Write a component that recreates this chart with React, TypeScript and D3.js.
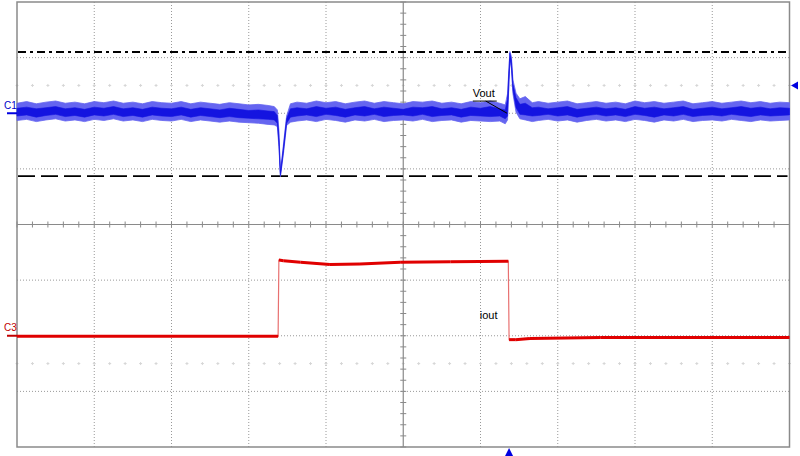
import React from "react";
import * as d3 from "d3";

// ---- data (time in divisions 0..10, level in divisions -4..4) ----
const vTime = [
  0, 0.125, 0.25, 0.375, 0.5, 0.625, 0.75, 0.875, 1.0, 1.125, 1.25, 1.375, 1.5, 1.625, 1.75, 1.875, 2.0, 2.125, 2.25, 2.375, 2.5, 2.625, 2.75, 2.875, 3.0, 3.125, 3.25,
  3.33, 3.37, 3.39, 3.41, 3.45, 3.49, 3.54,
  3.625, 3.75, 3.875, 4.0, 4.125, 4.25, 4.375, 4.5, 4.625, 4.75, 4.875, 5.0, 5.125, 5.25, 5.375, 5.5, 5.625, 5.75, 5.875, 6.0, 6.125, 6.25,
  6.32, 6.35, 6.38, 6.4, 6.42, 6.46, 6.51, 6.58, 6.67,
  6.75, 6.875, 7.0, 7.125, 7.25, 7.375, 7.5, 7.625, 7.75, 7.875, 8.0, 8.125, 8.25, 8.375, 8.5, 8.625, 8.75, 8.875, 9.0, 9.125, 9.25, 9.375, 9.5, 9.625, 9.75, 9.875, 10.0,
];
const vHigh = [
  2.18, 2.21, 2.17, 2.2, 2.22, 2.18, 2.2, 2.17, 2.21, 2.19, 2.22, 2.18, 2.2, 2.17, 2.21, 2.19, 2.18, 2.21, 2.17, 2.2, 2.18, 2.16, 2.19, 2.17, 2.15, 2.16, 2.14,
  2.12, 2.06, 1.7, 0.94, 1.45, 1.95, 2.17,
  2.2, 2.18, 2.22, 2.19, 2.21, 2.17, 2.2, 2.22, 2.18, 2.21, 2.19, 2.17, 2.21, 2.2, 2.22, 2.18, 2.2, 2.17, 2.21, 2.19, 2.22, 2.18,
  2.15, 2.35, 3.11, 3.02, 2.6, 2.36, 2.26, 2.3, 2.19,
  2.21, 2.18, 2.2, 2.22, 2.17, 2.19, 2.21, 2.18, 2.2, 2.17, 2.22, 2.19, 2.21, 2.18, 2.2, 2.22, 2.17, 2.19, 2.21, 2.18, 2.2, 2.22, 2.19, 2.21, 2.18, 2.2, 2.19,
];
const vLow = [
  1.87, 1.89, 1.85, 1.88, 1.9, 1.86, 1.88, 1.85, 1.89, 1.87, 1.9, 1.86, 1.88, 1.85, 1.89, 1.87, 1.86, 1.89, 1.85, 1.88, 1.86, 1.84, 1.86, 1.84, 1.83, 1.82, 1.8,
  1.79, 1.76, 1.4, 0.86, 1.28, 1.78, 1.84,
  1.86, 1.88, 1.85, 1.89, 1.87, 1.84, 1.88, 1.86, 1.89, 1.85, 1.87, 1.88, 1.86, 1.89, 1.85, 1.87, 1.88, 1.84, 1.87, 1.86, 1.85, 1.86,
  1.81, 1.88, 2.95, 2.8, 2.35, 2.02, 1.9, 1.88, 1.85,
  1.87, 1.89, 1.86, 1.88, 1.84, 1.87, 1.89, 1.86, 1.88, 1.85, 1.89, 1.87, 1.84, 1.88, 1.86, 1.89, 1.85, 1.87, 1.88, 1.86, 1.89, 1.87, 1.85, 1.88, 1.86, 1.87, 1.88,
];
const vCoreHigh = [
  2.09, 2.11, 2.08, 2.1, 2.12, 2.08, 2.1, 2.07, 2.11, 2.09, 2.12, 2.08, 2.1, 2.07, 2.11, 2.09, 2.08, 2.11, 2.07, 2.1, 2.08, 2.06, 2.09, 2.07, 2.05, 2.06, 2.04,
  2.03, 1.96, 1.6, 0.92, 1.4, 1.9, 2.08,
  2.1, 2.08, 2.12, 2.09, 2.11, 2.07, 2.1, 2.12, 2.08, 2.11, 2.09, 2.07, 2.11, 2.1, 2.12, 2.08, 2.1, 2.07, 2.11, 2.09, 2.12, 2.08,
  2.06, 2.25, 3.08, 2.96, 2.52, 2.28, 2.16, 2.18, 2.1,
  2.11, 2.08, 2.1, 2.12, 2.07, 2.09, 2.11, 2.08, 2.1, 2.07, 2.12, 2.09, 2.11, 2.08, 2.1, 2.12, 2.07, 2.09, 2.11, 2.08, 2.1, 2.12, 2.09, 2.11, 2.08, 2.1, 2.09,
];
const vCoreLow = [
  1.95, 1.97, 1.93, 1.96, 1.98, 1.94, 1.96, 1.93, 1.97, 1.95, 1.98, 1.94, 1.96, 1.93, 1.97, 1.95, 1.94, 1.97, 1.93, 1.96, 1.94, 1.92, 1.94, 1.92, 1.91, 1.9, 1.89,
  1.88, 1.82, 1.48, 0.88, 1.33, 1.82, 1.93,
  1.95, 1.97, 1.94, 1.98, 1.96, 1.93, 1.97, 1.95, 1.98, 1.94, 1.96, 1.97, 1.95, 1.98, 1.94, 1.96, 1.97, 1.93, 1.96, 1.95, 1.94, 1.95,
  1.9, 1.95, 2.98, 2.86, 2.42, 2.1, 1.98, 1.97, 1.95,
  1.96, 1.98, 1.95, 1.97, 1.93, 1.96, 1.98, 1.95, 1.97, 1.94, 1.98, 1.96, 1.93, 1.97, 1.95, 1.98, 1.94, 1.96, 1.97, 1.95, 1.98, 1.96, 1.94, 1.97, 1.95, 1.96, 1.97,
];

const iTime = [0, 3.38, 3.39, 3.45, 3.67, 4.05, 4.44, 4.96, 5.61, 6.36, 6.37, 6.45, 6.64, 7.55, 10];
const iLevel = [-2.01, -2.01, -0.64, -0.65, -0.68, -0.72, -0.71, -0.68, -0.67, -0.66, -2.07, -2.07, -2.05, -2.03, -2.03];

const refLevels = { dashDot: 3.1, dashed: 0.87 };
const ch1Offset = 2.0;
const ch3Offset = -2.0;
const triggerTime = 6.37;
const triggerLevel = 2.5;
const crossRows = [2.5, -2.5];
const labels = [
  { text: "Vout", t: 5.9, v: 2.3 },
  { text: "iout", t: 5.99, v: -1.69 },
];

export default function App() {
  const W = 800, H = 456;
  const x = d3.scaleLinear().domain([0, 10]).range([17, 789.5]);
  const y = d3.scaleLinear().domain([-4, 4]).range([447, 2]);
  const font = "Liberation Sans, Arial, sans-serif";

  const idx = vTime.map((_, i) => i);
  const outerArea = d3.area<number>().x(i => x(vTime[i])).y0(i => y(vLow[i])).y1(i => y(vHigh[i]))(idx) || "";
  const coreArea = d3.area<number>().x(i => x(vTime[i])).y0(i => y(vCoreLow[i])).y1(i => y(vCoreHigh[i]))(idx) || "";

  const line = d3.line<number>().x(i => x(iTime[i])).y(i => y(iLevel[i]));
  const iIdx = iTime.map((_, i) => i);
  const redThin = line(iIdx) || "";
  const redSegs = iIdx.slice(1).filter(i => iTime[i] - iTime[i - 1] > 0.02).map(i => line([i - 1, i]) || "");

  const divTicks = d3.range(1, 10);
  const hTicks = d3.range(-3, 4);
  const minorX = d3.range(0, 10.001, 0.2);
  const minorY = d3.range(-4, 4.001, 0.2);

  return (
    <div style={{ position: "absolute", left: 0, top: 0 }}>
      <svg width={W} height={H} style={{ display: "block", background: "#fff" }}>
        {/* grid */}
        {divTicks.filter(d => d !== 5).map(d => (
          <line key={"vx" + d} x1={x(d)} x2={x(d)} y1={y(4)} y2={y(-4)} stroke="#999" strokeWidth={1} strokeDasharray="1,2" />
        ))}
        {hTicks.filter(d => d !== 0).map(d => (
          <line key={"hy" + d} x1={x(0)} x2={x(10)} y1={y(d)} y2={y(d)} stroke="#999" strokeWidth={1} strokeDasharray="1,2" />
        ))}
        {crossRows.map(r => minorX.map(m => (
          <g key={"cr" + r + "_" + m} stroke="#d6d6d6" strokeWidth={1}>
            <line x1={x(m) - 1.5} x2={x(m) + 1.5} y1={y(r)} y2={y(r)} />
            <line x1={x(m)} x2={x(m)} y1={y(r) - 1.5} y2={y(r) + 1.5} />
          </g>
        )))}
        {/* center axes */}
        <line x1={x(5)} x2={x(5)} y1={y(4)} y2={y(-4)} stroke="#8a8a8a" strokeWidth={1.2} />
        <line x1={x(0)} x2={x(10)} y1={y(0)} y2={y(0)} stroke="#8a8a8a" strokeWidth={1.2} />
        {minorX.map(m => (
          <line key={"tx" + m} x1={x(m)} x2={x(m)} y1={y(0) - 3} y2={y(0) + 3} stroke="#8a8a8a" strokeWidth={1} />
        ))}
        {minorY.map(m => (
          <line key={"ty" + m} x1={x(5) - 3} x2={x(5) + 3} y1={y(m)} y2={y(m)} stroke="#8a8a8a" strokeWidth={1} />
        ))}
        {/* frame */}
        <rect x={x(0)} y={y(4)} width={x(10) - x(0)} height={y(-4) - y(4)} fill="none" stroke="#8a8a8a" strokeWidth={1.5} />

        {/* reference lines */}
        <line x1={x(0) + 1} x2={x(10) - 2} y1={y(refLevels.dashDot)} y2={y(refLevels.dashDot)} stroke="#000" strokeWidth={2} strokeDasharray="8,4,3,4" />
        <line x1={x(0) + 1} x2={x(10) - 2} y1={y(refLevels.dashed)} y2={y(refLevels.dashed)} stroke="#000" strokeWidth={1.6} strokeDasharray="17,6" />

        {/* channel 1 */}
        <path d={outerArea} fill="#6565f0" stroke="#6565f0" strokeWidth={0.8} />
        <path d={coreArea} fill="#1414e0" stroke="#1414e0" strokeWidth={0.6} />

        {/* channel 3 */}
        <path d={redThin} fill="none" stroke="#e87070" strokeWidth={1.2} />
        {redSegs.map((d, k) => (
          <path key={"rs" + k} d={d} fill="none" stroke="#e00000" strokeWidth={3} />
        ))}

        {/* labels */}
        <text x={x(labels[0].t)} y={y(labels[0].v)} fontFamily={font} fontSize={11} fill="#000">{labels[0].text}</text>
        <line x1={x(labels[0].t)} x2={x(labels[0].t) + 24} y1={y(labels[0].v) + 4.5} y2={y(labels[0].v) + 4.5} stroke="#000" strokeWidth={1} />
        <line x1={x(labels[0].t) + 13} x2={x(triggerTime) - 2} y1={y(labels[0].v) + 4.5} y2={y(ch1Offset)} stroke="#000" strokeWidth={1} />
        <text x={x(labels[1].t)} y={y(labels[1].v)} fontFamily={font} fontSize={11} fill="#000">{labels[1].text}</text>

        {/* channel markers */}
        <text x={4} y={y(ch1Offset) - 4} fontFamily={font} fontSize={10} fill="#0000c8">C1</text>
        <line x1={7} x2={x(0)} y1={y(ch1Offset)} y2={y(ch1Offset)} stroke="#0000e0" strokeWidth={2} />
        <text x={4} y={y(ch3Offset) - 5} fontFamily={font} fontSize={10} fill="#c00000">C3</text>
        <line x1={7} x2={x(0)} y1={y(ch3Offset)} y2={y(ch3Offset)} stroke="#c00000" strokeWidth={2} />

        {/* trigger markers */}
        <path d={`M${x(triggerTime)},${y(-4) + 1} l-4,8 l8,0 z`} fill="#0000e0" />
        <path d={`M${x(10) + 1.5},${y(triggerLevel)} l7,-4 l0,8 z`} fill="#0000e0" />
      </svg>
    </div>
  );
}
